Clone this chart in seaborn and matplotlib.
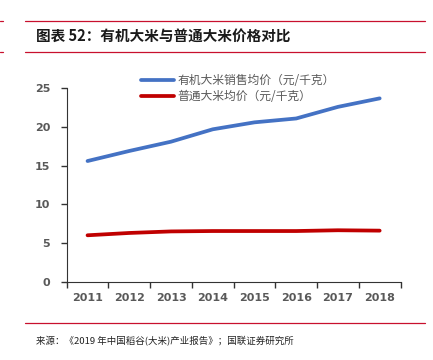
import pandas as pd
import matplotlib
matplotlib.use("Agg")
import matplotlib.pyplot as plt
import seaborn as sns
import numpy as np

years = ["2011", "2012", "2013", "2014", "2015", "2016", "2017", "2018"]
organic = [15.6, 16.9, 18.1, 19.7, 20.6, 21.1, 22.6, 23.7]
normal = [6.0, 6.3, 6.5, 6.55, 6.55, 6.55, 6.65, 6.6]
names = ["有机大米销售均价（元/千克）", "普通大米均价（元/千克）"]

sns.set_style("white")
plt.rcParams['font.family'] = ['Noto Sans CJK SC', 'DejaVu Sans']

df = pd.DataFrame({
    "year": list(range(len(years))) * 2,
    "price": organic + normal,
    "series": [names[0]] * len(years) + [names[1]] * len(years),
})

fig = plt.figure(figsize=(4.33, 3.6), dpi=100)
ax = fig.add_axes([0.154, 0.2175, 0.771, 0.5372])

sns.lineplot(data=df, x="year", y="price", hue="series", ax=ax,
             palette={names[0]: "#4472C4", names[1]: "#C00000"},
             linewidth=2.7, legend=True)

ax.set_xlim(-0.5, len(years) - 0.5)
ax.set_ylim(0, 25)
ax.set_yticks([0, 5, 10, 15, 20, 25])
ax.set_xticks(range(len(years)))
ax.set_xticklabels(years)
ax.set_xticks(np.arange(-0.5, len(years), 1), minor=True)
ax.tick_params(axis="x", which="both", bottom=True)
ax.tick_params(axis="x", which="major", length=0, pad=8)
ax.tick_params(axis="x", which="minor", length=4, width=1, color="#333333", direction="out")
ax.tick_params(axis="y", left=True, length=4, width=1, color="#333333", direction="out", pad=8)
for lab in ax.get_xticklabels() + ax.get_yticklabels():
    lab.set_fontweight("bold")
    lab.set_fontsize(8)
    lab.set_color("#595959")
    lab.set_family(["DejaVu Sans"])
ax.set_xlabel("")
ax.set_ylabel("")
sns.despine(ax=ax)
ax.spines["left"].set_color("#333333")
ax.spines["bottom"].set_color("#333333")

leg = ax.legend(loc="upper left", bbox_to_anchor=(0.19, 1.13), frameon=False,
                fontsize=8.5, handlelength=2.8, handletextpad=0.3, labelspacing=0.3)
for t in leg.get_texts():
    t.set_color("#595959")

# header / footer decoration
for yy in [0.942, 0.855, 0.103]:
    fig.add_artist(plt.Line2D([0.058, 0.982], [yy, yy], color="#C8102E", linewidth=0.9))
for yy in [0.942, 0.855]:
    fig.add_artist(plt.Line2D([0.0, 0.007], [yy, yy], color="#C8102E", linewidth=0.9))

fig.text(0.083, 0.897, "图表 52：有机大米与普通大米价格对比", fontsize=10.5,
         fontweight="bold", style="italic", color="#1a1a1a", va="center")
fig.text(0.083, 0.052, "来源：《2019 年中国稻谷(大米)产业报告》；国联证券研究所",
         fontsize=6.8, color="#222222", va="center")

fig.savefig("out.png", dpi=100)
